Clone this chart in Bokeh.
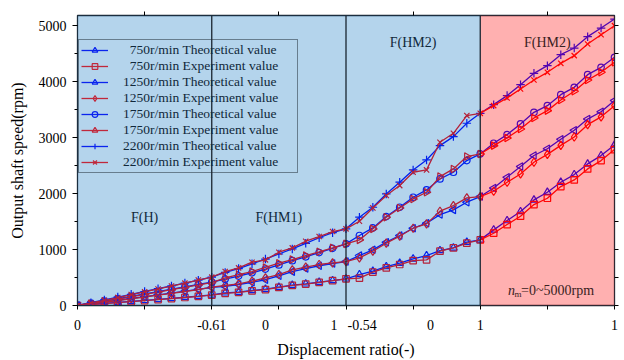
from math import pi
from bokeh.plotting import figure
from bokeh.models import (Range1d, LinearAxis, FixedTicker, SingleIntervalTicker,
                          Legend, LegendItem, Span, Label, BoxAnnotation)
from bokeh.embed import file_html
from bokeh.resources import INLINE

# ---------------- data ----------------
# x positions: 4 segments (F(H), F(HM1), F(HM2) blue, F(HM2) pink), 10 steps each
x_pos = [round(i * 0.1, 1) for i in range(41)]

t750 = [0, 18, 37, 55, 73, 92, 110, 128, 147, 166, 190,
        226, 238, 268, 292, 327, 363, 387, 417, 446, 476,
        553, 613, 696, 756, 833, 892, 982, 1029, 1131, 1172,
        1351, 1517, 1678, 1886, 2023, 2202, 2338, 2529, 2678, 2868]
e750 = [0, 15, 33, 52, 70, 88, 105, 124, 143, 162, 185,
        218, 235, 262, 285, 322, 358, 382, 412, 443, 476,
        490, 595, 672, 732, 803, 815, 970, 1029, 1113, 1172,
        1291, 1446, 1595, 1803, 1916, 2124, 2243, 2440, 2588, 2785]
t1250 = [0, 30, 62, 94, 126, 158, 190, 222, 255, 288, 322,
         340, 375, 415, 460, 530, 605, 660, 710, 750, 785,
         892, 994, 1131, 1250, 1380, 1470, 1624, 1708, 1845, 1946,
         2100, 2291, 2481, 2680, 2800, 2970, 3130, 3330, 3460, 3660]
e1250 = [0, 26, 56, 88, 120, 152, 184, 216, 250, 285, 327,
         357, 387, 434, 494, 553, 637, 684, 732, 762, 785,
         851, 970, 1113, 1238, 1380, 1458, 1684, 1785, 1922, 1946,
         2041, 2202, 2350, 2559, 2700, 2860, 3010, 3230, 3370, 3570]
t1750 = [0, 40, 80, 122, 164, 206, 248, 290, 332, 375, 416,
         470, 525, 585, 650, 725, 800, 870, 945, 1020, 1101,
         1250, 1386, 1589, 1755, 1934, 2065, 2261, 2380, 2588, 2707,
         2898, 3052, 3243, 3451, 3570, 3766, 3897, 4123, 4254, 4433]
e1750 = [0, 36, 74, 114, 156, 198, 240, 282, 325, 368, 410,
         494, 550, 607, 680, 756, 820, 892, 960, 1029, 1101,
         1172, 1369, 1577, 1743, 1904, 2023, 2303, 2440, 2660, 2707,
         2856, 2993, 3154, 3350, 3481, 3671, 3826, 4028, 4165, 4344]
t2200 = [0, 50, 100, 150, 200, 250, 300, 350, 400, 452, 506,
         590, 660, 745, 830, 920, 1010, 1110, 1210, 1300, 1369,
         1577, 1755, 1993, 2202, 2422, 2600, 2856, 3017, 3255, 3433,
         3588, 3749, 3945, 4147, 4284, 4480, 4599, 4802, 4956, 5117]
e2200 = [0, 45, 92, 142, 195, 245, 295, 348, 400, 455, 506,
         607, 672, 773, 815, 952, 1029, 1148, 1232, 1321, 1369,
         1505, 1743, 1964, 2142, 2380, 2422, 2916, 3076, 3392, 3433,
         3570, 3707, 3868, 4028, 4165, 4326, 4463, 4671, 4837, 4998]

series_labels = ["\u00a0\u00a0750r/min Theoretical value",
                 "\u00a0\u00a0750r/min Experiment value",
                 "1250r/min Theoretical value",
                 "1250r/min Experiment value",
                 "1750r/min Theoretical value",
                 "1750r/min Experiment value",
                 "2200r/min Theoretical value",
                 "2200r/min Experiment value"]
series_values = [t750, e750, t1250, e1250, t1750, e1750, t2200, e2200]

# x tick labels and their positions on the segment axis
xtick_pos = [0, 1, 1.4, 1.91, 2.12, 2.63, 3.0, 4.0]
xtick_txt = ["0", "-0.61", "0", "1", "-0.54", "0", "1", "1"]

region_edges = [0, 1, 2, 3, 4]
region_names = ["F(H)", "F(HM1)", "F(HM2)", "F(HM2)"]

# ---------------- styles ----------------
FONT = "Liberation Serif"
BLUE = "#0000ff"
RED = "#ff0000"
LEG_BLUE = "#0a24ee"
LEG_RED = "#c0283c"
AX = "#1e2a36"
markers = [("triangle", 0), ("square", 0), ("triangle", pi / 2), ("diamond", 0),
           ("circle", 0), ("triangle", -pi / 2), ("cross", 0), ("x", 0)]
msizes = [7.5, 6.5, 7.5, 8.5, 6.5, 7.5, 8.5, 7.5]

p = figure(width=624, height=360, output_backend="svg", toolbar_location=None,
           x_range=Range1d(0, 4), y_range=Range1d(0, 5180),
           x_axis_type=None, y_axis_type=None,
           min_border_left=77, min_border_right=10, min_border_top=15,
           min_border_bottom=55)
p.background_fill_color = "white"
p.outline_line_color = AX
p.outline_line_width = 1.3

# axes
left = LinearAxis(ticker=SingleIntervalTicker(interval=1000, num_minor_ticks=2),
                  axis_label="Output shaft speed(rpm)")
left.major_label_text_font = FONT
left.major_label_text_font_size = "14px"
left.major_label_text_color = "black"
left.major_tick_out = 5
left.major_tick_in = 0
left.minor_tick_out = 3
left.minor_tick_in = 0
left.major_label_standoff = 6
left.axis_label_text_font = FONT
left.axis_label_text_font_size = "16px"
left.axis_label_text_font_style = "normal"
left.axis_label_text_color = "black"
left.axis_label_standoff = 10
left.axis_line_color = AX
p.add_layout(left, "left")

right = LinearAxis(ticker=SingleIntervalTicker(interval=500, num_minor_ticks=0))
right.major_label_text_color = None
right.major_tick_out = 4
right.major_tick_in = 0
right.axis_line_color = AX
p.add_layout(right, "right")

top = LinearAxis(ticker=FixedTicker(ticks=[0.5, 1.5, 2.5, 3.5]))
top.major_label_text_color = None
top.major_tick_out = 4
top.major_tick_in = 0
top.axis_line_color = AX
p.add_layout(top, "above")

bottom = LinearAxis(ticker=FixedTicker(ticks=xtick_pos,
                                       minor_ticks=[i * 0.5 for i in range(9)]),
                    axis_label="Displacement ratio(-)")
bottom.major_label_overrides = {pos: txt for pos, txt in zip(xtick_pos, xtick_txt)}
bottom.major_tick_line_color = None
bottom.major_tick_out = 0
bottom.major_tick_in = 0
bottom.minor_tick_out = 4
bottom.minor_tick_in = 0
bottom.major_label_standoff = 10
bottom.major_label_text_font = FONT
bottom.major_label_text_font_size = "14px"
bottom.major_label_text_color = "black"
bottom.axis_label_text_font = FONT
bottom.axis_label_text_font_size = "16px"
bottom.axis_label_text_font_style = "normal"
bottom.axis_label_text_color = "black"
bottom.axis_label_standoff = 8
bottom.axis_line_color = AX
p.add_layout(bottom, "below")

# data lines
for i, vals in enumerate(series_values):
    col = BLUE if i % 2 == 0 else RED
    mk, ang = markers[i]
    p.line(x_pos, vals, line_color=col, line_width=1.3)
    p.scatter(x_pos, vals, marker=mk, angle=ang, size=msizes[i],
              line_color=col, fill_color=None, line_width=1.2)

# translucent region overlays (on top of the lines)
p.add_layout(BoxAnnotation(left=region_edges[0], right=region_edges[3],
                           fill_color="#0570c0", fill_alpha=0.3, line_color=None))
p.add_layout(BoxAnnotation(left=region_edges[3], right=region_edges[4],
                           fill_color="#ff1010", fill_alpha=0.33, line_color=None))

for edge in region_edges[1:4]:
    p.add_layout(Span(location=edge, dimension="height",
                      line_color="#1a2530", line_width=1.3))

# region labels
lab_y = [1570, 1570, 4700, 4700]
lab_col = ["#10283a", "#10283a", "#10283a", "#3a2222"]
for k, name in enumerate(region_names):
    p.add_layout(Label(x=(region_edges[k] + region_edges[k + 1]) / 2, y=lab_y[k],
                       text=name, text_font=FONT, text_font_size="14px",
                       text_color=lab_col[k], text_align="center",
                       text_baseline="middle"))

nx, ny = 3.52, 270
p.add_layout(Label(x=nx, y=ny, x_offset=-42, text="n", text_font=FONT,
                   text_font_style="italic", text_font_size="14px",
                   text_color="#3a2222", text_baseline="middle"))
p.add_layout(Label(x=nx, y=ny, x_offset=-35.5, y_offset=-4, text="m", text_font=FONT,
                   text_font_size="9px", text_color="#3a2222",
                   text_baseline="middle"))
p.add_layout(Label(x=nx, y=ny, x_offset=-29, text="=0~5000rpm", text_font=FONT,
                   text_font_size="14px", text_color="#3a2222",
                   text_baseline="middle"))

# legend (drawn with the colours as they appear under the blue wash);
# proxy renderers hold a single NaN point so nothing is plotted
nan = float("nan")
items = []
for i, lab in enumerate(series_labels):
    col = LEG_BLUE if i % 2 == 0 else LEG_RED
    mk, ang = markers[i]
    r1 = p.line([nan], [nan], line_color=col, line_width=1.3)
    r2 = p.scatter([nan], [nan], marker=mk, angle=ang, size=msizes[i], line_color=col,
                   fill_color=None, line_width=1.2)
    items.append(LegendItem(label=lab, renderers=[r1, r2]))

legend = Legend(items=items, location=(1, 132))
legend.label_text_font = FONT
legend.label_text_font_size = "13.5px"
legend.label_text_color = "#10283a"
legend.glyph_width = 27
legend.glyph_height = 14
legend.label_height = 14
legend.label_standoff = 15
legend.label_width = 172
legend.spacing = 0
legend.padding = 2
legend.margin = 0
legend.border_line_color = "#1a2530"
legend.border_line_width = 1.2
legend.background_fill_alpha = 0
p.add_layout(legend, "center")

open("out.html", "w").write(file_html(p, INLINE))
